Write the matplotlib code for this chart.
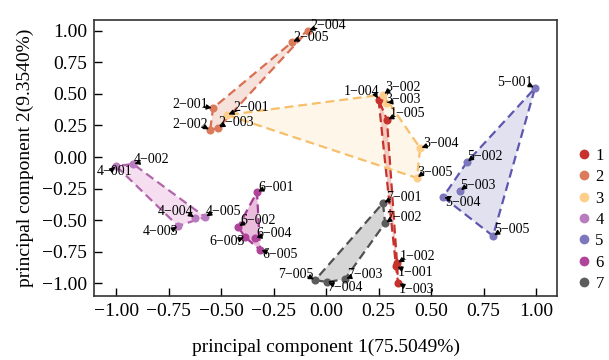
import numpy as np
import matplotlib
matplotlib.use("Agg")
import matplotlib.pyplot as plt
from matplotlib.lines import Line2D

# ---------------- data ----------------
names = ["1-001", "1-002", "1-003", "1-004", "1-005",
         "2-001", "2-002", "2-003", "2-004", "2-005",
         "2-001", "3-002", "3-003", "3-004", "3-005",
         "4-001", "4-002", "4-003", "4-004", "4-005",
         "5-001", "5-002", "5-003", "5-004", "5-005",
         "6-001", "6-002", "6-003", "6-004", "6-005",
         "7-001", "7-002", "7-003", "7-004", "7-005"]
groups = [1]*5 + [2]*5 + [3]*5 + [4]*5 + [5]*5 + [6]*5 + [7]*5
pc1 = [0.333, 0.338, 0.343, 0.250, 0.290,
       -0.538, -0.552, -0.514, -0.086, -0.162,
       -0.471, 0.272, 0.285, 0.448, 0.433,
       -1.000, -0.919, -0.705, -0.624, -0.576,
       0.995, 0.671, 0.638, 0.557, 0.795,
       -0.329, -0.419, -0.386, -0.338, -0.314,
       0.271, 0.281, 0.090, 0.005, -0.052]
pc2 = [-0.865, -0.840, -0.998, 0.455, 0.295,
       0.388, 0.214, 0.230, 1.000, 0.910,
       0.333, 0.495, 0.430, 0.071, -0.166,
       -0.071, -0.055, -0.546, -0.483, -0.475,
       0.546, -0.040, -0.269, -0.317, -0.625,
       -0.277, -0.554, -0.633, -0.641, -0.736,
       -0.364, -0.523, -0.966, -0.990, -0.974]
group_labels = ["1", "2", "3", "4", "5", "6", "7"]
x_ticks = [-1.00, -0.75, -0.50, -0.25, 0.00, 0.25, 0.50, 0.75, 1.00]
y_ticks = [-1.00, -0.75, -0.50, -0.25, 0.00, 0.25, 0.50, 0.75, 1.00]
xlabel = "principal component 1(75.5049%)"
ylabel = "principal component 2(9.3540%)"

# ---------------- style ----------------
colors = {1: "#c8322d", 2: "#dc7a5c", 3: "#fdcf8a", 4: "#b97cbf",
          5: "#7d78bd", 6: "#b0449a", 7: "#5c5c5c"}
edge_colors = {1: "#c8322d", 2: "#d86f52", 3: "#f7bf6a", 4: "#b365ac",
               5: "#5d57b0", 6: "#a03a92", 7: "#505050"}
fill_colors = {1: "#c8322d", 2: "#dc7a5c", 3: "#fdcf8a", 4: "#e3a3d6",
               5: "#7d78bd", 6: "#c4449f", 7: "#5c5c5c"}
fill_alpha = {1: 0.25, 2: 0.22, 3: 0.18, 4: 0.35, 5: 0.22, 6: 0.35, 7: 0.25}

# label layout: (dx px, dy px, ha)   dy>0 above point
label_layout = [
    (2, -6, "left"), (3, 7, "left"), (1, -6, "left"), (1, 8, "right"), (3, 6, "left"),
    (-5, 4, "right"), (-2, 6, "right"), (0, 5, "left"), (2, 5, "left"), (1, 5, "left"),
    (6, 7, "left"), (2, 7, "left"), (-1, 3, "left"), (3, 5, "left"), (0, 6, "left"),
    (-2, -5, "center"), (1, 4, "left"), (0, -6, "right"), (-2, 7, "right"), (1, 6, "left"),
    (-2, 6, "right"), (0, 6, "left"), (0, 6, "left"), (2, -5, "left"), (1, 6, "left"),
    (1, 5, "left"), (2, 7, "left"), (0, -5, "right"), (1, 4, "left"), (2, -5, "left"),
    (3, 6, "left"), (1, 6, "left"), (2, 5, "left"), (0, -5, "left"), (-2, 6, "right"),
]

plt.rcParams["font.family"] = ["Liberation Serif", "DejaVu Serif"]
plt.rcParams["axes.unicode_minus"] = True


def convex_hull(pts):
    pts = sorted(set(pts))
    if len(pts) <= 2:
        return pts

    def cross(o, a, b):
        return (a[0]-o[0])*(b[1]-o[1]) - (a[1]-o[1])*(b[0]-o[0])
    lower, upper = [], []
    for p in pts:
        while len(lower) >= 2 and cross(lower[-2], lower[-1], p) <= 0:
            lower.pop()
        lower.append(p)
    for p in reversed(pts):
        while len(upper) >= 2 and cross(upper[-2], upper[-1], p) <= 0:
            upper.pop()
        upper.append(p)
    return lower[:-1] + upper[:-1]


fig = plt.figure(figsize=(6.09, 3.6), dpi=100)
ax = fig.add_axes([0.1544, 0.1786, 0.7603, 0.7658])

pc1_arr = np.array(pc1)
pc2_arr = np.array(pc2)
grp_arr = np.array(groups)

for g in range(1, 8):
    m = grp_arr == g
    hull = convex_hull(list(zip(pc1_arr[m], pc2_arr[m])))
    hx = [p[0] for p in hull] + [hull[0][0]]
    hy = [p[1] for p in hull] + [hull[0][1]]
    ax.fill(hx, hy, color=fill_colors[g], alpha=fill_alpha[g], lw=0, zorder=1)
    ax.plot(hx, hy, color=edge_colors[g], lw=1.6, ls=(0, (4, 2.2)), zorder=2)

handles = []
for g in range(1, 8):
    m = grp_arr == g
    ax.scatter(pc1_arr[m], pc2_arr[m], s=34, color=colors[g], zorder=3, linewidths=0)
    handles.append(Line2D([], [], marker="o", ls="", color=colors[g],
                          markersize=6, label=group_labels[g-1]))

for name, x, y, (dx, dy, ha) in zip(names, pc1, pc2, label_layout):
    rx = {"left": 0.12, "right": 0.88, "center": 0.5}[ha]
    ry = 0.3 if dy > 0 else 0.75
    ax.annotate(name.replace("-", "\u2212"), xy=(x, y), xytext=(dx, dy),
                textcoords="offset pixels", ha=ha, va="center", fontsize=10,
                zorder=5,
                arrowprops=dict(arrowstyle="-|>,head_length=0.3,head_width=0.15",
                                color="black", lw=0.9, shrinkA=0, shrinkB=1,
                                patchA=None, relpos=(rx, ry)))

ax.set_xlim(-1.105, 1.1)
ax.set_ylim(-1.098, 1.085)
ax.set_xticks(x_ticks)
ax.set_yticks(y_ticks)
ax.set_xticklabels([f"{v:.2f}".replace("-", "\u2212") for v in x_ticks])
ax.set_yticklabels([f"{v:.2f}".replace("-", "\u2212") for v in y_ticks])
ax.tick_params(direction="in", length=6, width=1.0, labelsize=14, pad=5)
for s in ax.spines.values():
    s.set_linewidth(1.2)
    s.set_color("#333333")

ax.set_xlabel(xlabel, fontsize=14, labelpad=14)
ax.set_ylabel(ylabel, fontsize=14, labelpad=6)

ax.legend(handles=handles, loc="center left", bbox_to_anchor=(1.0, 0.275),
          frameon=False, fontsize=12, handletextpad=0.1, labelspacing=0.32,
          handlelength=1.2, borderaxespad=0.6)

fig.savefig("out.png", dpi=100)
